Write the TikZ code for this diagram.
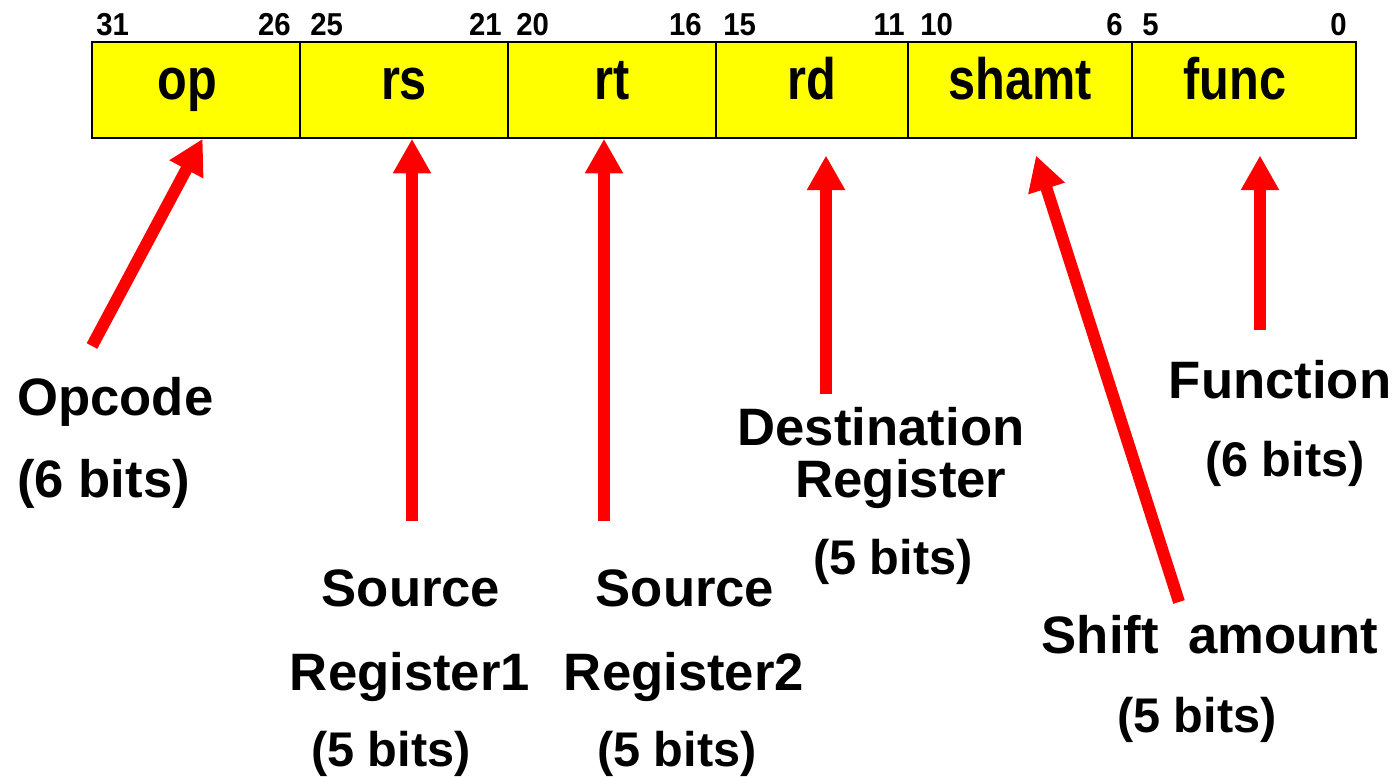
\documentclass[tikz,border=0pt]{standalone}
\usepackage{graphicx}
\usepackage{fontspec}
\setmainfont{Liberation Sans}
\usetikzlibrary{arrows.meta}

\definecolor{fieldyellow}{RGB}{255,255,0}
\definecolor{pointred}{RGB}{255,0,0}
\newcommand{\tallfield}[1]{\scalebox{1}[1.2]{#1}}
\newcommand{\tallbit}[1]{\scalebox{1}[1.08]{#1}}

\tikzset{
  field/.style={draw=black, line width=1.2pt, fill=fieldyellow, minimum height=72pt, inner sep=0pt,
    font=\fontsize{36.5}{40}\selectfont\bfseries, text height=24pt, text depth=10.5pt},
  bitnum/.style={inner sep=0pt, font=\fontsize{22}{25}\selectfont\bfseries},
  desc/.style={inner sep=0pt, font=\fontsize{39.5}{44}\selectfont\bfseries},
  bitsdesc/.style={inner sep=0pt, font=\fontsize{36.5}{40}\selectfont\bfseries},
  pointer/.style={draw=pointred, fill=pointred, line width=9pt, -{Triangle[length=26pt,width=27pt]}}
}

\begin{document}
\begin{tikzpicture}[x=0.75pt,y=0.75pt,yscale=-1,xscale=1]
  \useasboundingbox (0,0) rectangle (1396,776);

  % Instruction fields
  \node [field, minimum width=156pt] (op)    at (196,90)  {\tallfield{op}\hspace*{13.5pt}};
  \node [field, minimum width=156pt] (rs)    at (404,90)  {\tallfield{rs}};
  \node [field, minimum width=156pt] (rt)    at (612,90)  {\tallfield{rt}};
  \node [field, minimum width=144pt] (rd)    at (812,90)  {\tallfield{rd}};
  \node [field, minimum width=168pt] (shamt) at (1020,90) {\tallfield{shamt}};
  \node [field, minimum width=168pt] (func)  at (1244,90) {\tallfield{func}\hspace*{13.5pt}};

  % Bit numbers
  \node [bitnum, anchor=base west] (b31) at (96,35)   {\tallbit{31}};
  \node [bitnum, anchor=base east] (b26) at (291,35)  {\tallbit{26}};
  \node [bitnum, anchor=base west] (b25) at (310,35)  {\tallbit{25}};
  \node [bitnum, anchor=base east] (b21) at (502,35)  {\tallbit{21}};
  \node [bitnum, anchor=base west] (b20) at (516,35)  {\tallbit{20}};
  \node [bitnum, anchor=base east] (b16) at (702,35)  {\tallbit{16}};
  \node [bitnum, anchor=base west] (b15) at (723,35)  {\tallbit{15}};
  \node [bitnum, anchor=base east] (b11) at (905,35)  {\tallbit{11}};
  \node [bitnum, anchor=base west] (b10) at (920,35)  {\tallbit{10}};
  \node [bitnum, anchor=base east] (b6)  at (1123,35) {\tallbit{6}};
  \node [bitnum, anchor=base west] (b5)  at (1142,35) {\tallbit{5}};
  \node [bitnum, anchor=base east] (b0)  at (1347,35) {\tallbit{0}};

  % Text Node
  \node [desc, anchor=base west] (opcName) at (17,415) {Opcode};
  \node [desc, anchor=base west] (opcBits) at (17,497) {(6 bits)};
  % Text Node
  \node [desc, anchor=base] (rsName1) at (411,606) {Source};
  \node [desc, anchor=base] (rsName2) at (410,690) {Register1};
  \node [bitsdesc, anchor=base] (rsBits)  at (391,766) {(5 bits)};
  % Text Node
  \node [desc, anchor=base] (rtName1) at (685,606) {Source};
  \node [desc, anchor=base] (rtName2) at (684,690) {Register2};
  \node [bitsdesc, anchor=base] (rtBits)  at (677,766) {(5 bits)};
  % Text Node
  \node [desc, anchor=base] (rdName1) at (881,445) {Destination};
  \node [desc, anchor=base] (rdName2) at (901,497) {Register};
  \node [bitsdesc, anchor=base] (rdBits)  at (893,574) {(5 bits)};
  % Text Node
  \node [desc, anchor=base] (shName) at (1210,653) {Shift\ \ amount};
  \node [bitsdesc, anchor=base] (shBits) at (1197,732) {(5 bits)};
  % Text Node
  \node [desc, anchor=base] (fnName) at (1280,398) {Function};
  \node [bitsdesc, anchor=base] (fnBits) at (1285,476) {(6 bits)};

  % Arrow tails
  \coordinate (opTail) at (92,346);
  \coordinate (rsTail) at (412,521);
  \coordinate (rtTail) at (604,521);
  \coordinate (rdTail) at (826,394);
  \coordinate (shTail) at (1179,602);
  \coordinate (fnTail) at (1260,330);

  %Straight Lines
  \draw [pointer] (opTail) -- ([xshift=5pt]op.south);
  \draw [pointer] (rsTail) -- ([xshift=6pt]rs.south);
  \draw [pointer] (rtTail) -- ([xshift=-6pt]rt.south);
  \draw [pointer] (rdTail) -- ([xshift=10.5pt,yshift=12.5pt]rd.south);
  \draw [pointer] (shTail) -- ([xshift=12pt,yshift=12.5pt]shamt.south);
  \draw [pointer] (fnTail) -- ([xshift=12pt,yshift=12.5pt]func.south);

\end{tikzpicture}
\end{document}
